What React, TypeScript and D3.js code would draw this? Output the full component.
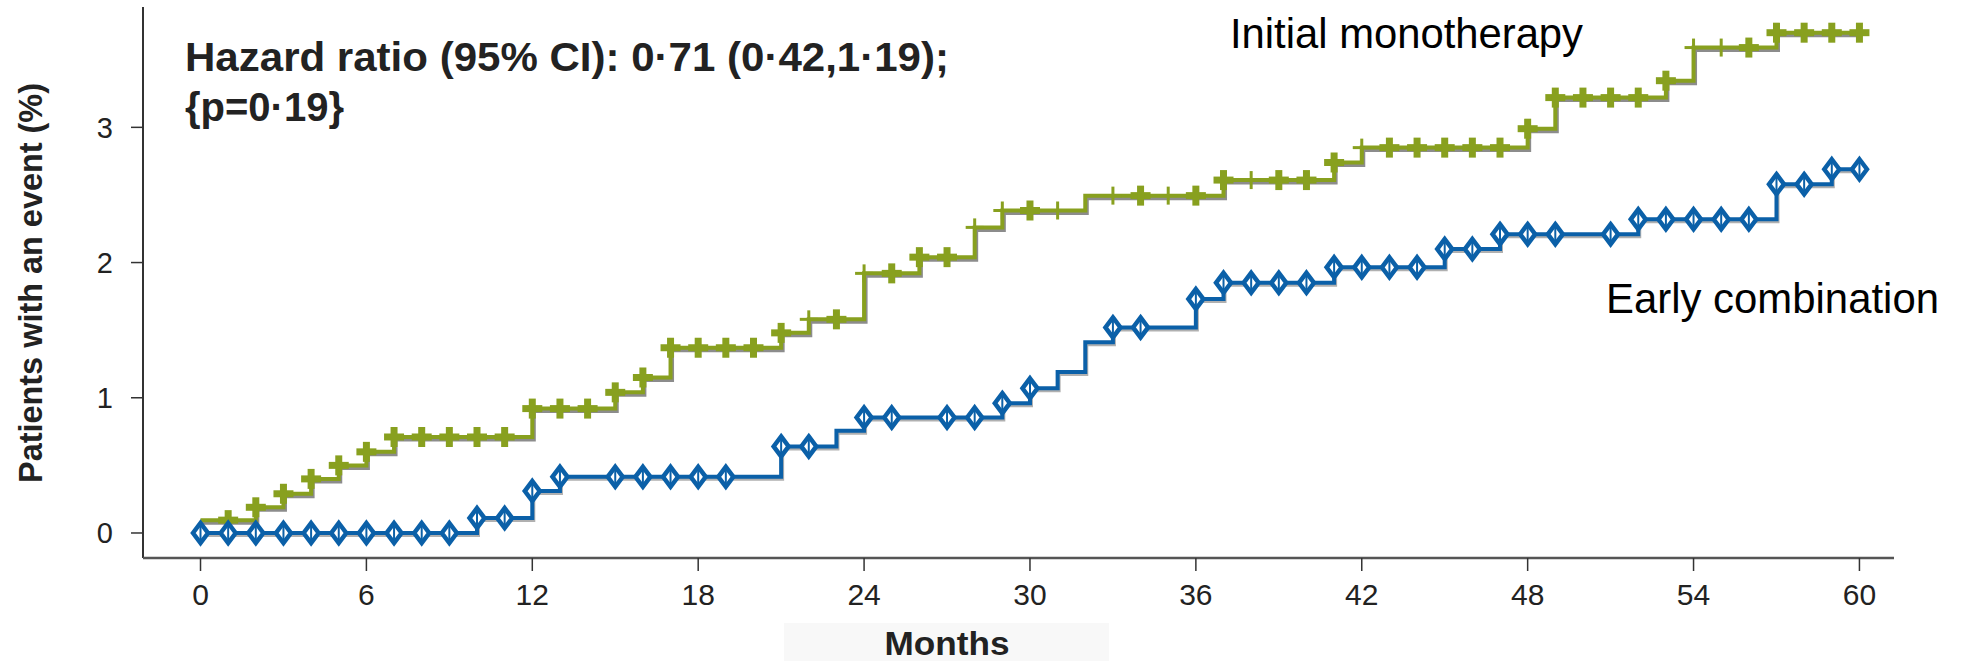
import React from 'react';
import * as d3 from 'd3';

// axis ticks
const monthTicks = [0, 6, 12, 18, 24, 30, 36, 42, 48, 54, 60];
const pctTicks = [0, 1, 2, 3];

// Initial monotherapy: step times (months) and cumulative % after each step
const monoTimes = [0, 2, 3, 4, 5, 6, 7, 12, 15, 16, 17, 21, 22, 24, 26, 28, 29, 32, 37, 41, 42, 48, 49, 53, 54, 57];
const monoValues = [0.095, 0.19, 0.29, 0.40, 0.50, 0.60, 0.71, 0.92, 1.04, 1.15, 1.37, 1.48, 1.58, 1.92, 2.04, 2.26, 2.385, 2.495, 2.61, 2.74, 2.85, 2.99, 3.22, 3.345, 3.59, 3.70];
const monoCensor = [1, 2, 3, 4, 5, 6, 7, 8, 9, 10, 11, 12, 13, 14, 15, 16, 17, 18, 19, 20, 21, 22, 23, 24, 25, 26, 27, 28, 29, 30, 31,
  33, 34, 35, 36, 37, 38, 39, 40, 41, 42, 43, 44, 45, 46, 47, 48, 49, 50, 51, 52, 53, 54, 55, 56, 57, 58, 59, 60];
const monoThin = [22, 24, 28, 29, 31, 33, 35, 38, 42, 54, 55];

// Early combination
const comboTimes = [0, 10, 12, 13, 21, 23, 24, 29, 30, 31, 32, 33, 36, 37, 41, 45, 47, 52, 57, 59];
const comboValues = [0, 0.11, 0.31, 0.415, 0.64, 0.756, 0.854, 0.96, 1.07, 1.19, 1.41, 1.52, 1.73, 1.85, 1.965, 2.10, 2.21, 2.32, 2.58, 2.69];
const comboCensor = [0, 1, 2, 3, 4, 5, 6, 7, 8, 9, 10, 11, 12, 13, 15, 16, 17, 18, 19, 21, 22, 24, 25, 27, 28, 29, 30,
  33, 34, 36, 37, 38, 39, 40, 41, 42, 43, 44, 45, 46, 47, 48, 49, 51, 52, 53, 54, 55, 56, 57, 58, 59, 60];

const W = 1965;
const H = 661;
const FONT = '"Liberation Sans", Arial, sans-serif';
const GREEN = '#88a01f';
const BLUE = '#0b60a8';

const x = d3.scaleLinear().domain([-2.08, 61.25]).range([143, 1894]);
const y = d3.scaleLinear().domain([-0.185, 3.89]).range([558, 7]);

function stepPoints(times: number[], values: number[], end: number): [number, number][] {
  const pts: [number, number][] = times.map((t, i) => [t, values[i]]);
  pts.push([end, values[values.length - 1]]);
  return pts;
}

function valueAt(times: number[], values: number[], t: number) {
  const i = d3.bisectRight(times, t) - 1;
  return values[Math.max(0, i)];
}

const line = d3.line<[number, number]>()
  .x(d => x(d[0]))
  .y(d => y(d[1]))
  .curve(d3.curveStepAfter);

export default function App() {
  const monoPath = line(stepPoints(monoTimes, monoValues, 60)) || '';
  const comboPath = line(stepPoints(comboTimes, comboValues, 60)) || '';

  return (
    <svg width={W} height={H} style={{ position: 'absolute', left: 0, top: 0, background: '#fff' }}>
      <rect x={0} y={0} width={W} height={H} fill="#fff" />
      {/* faint box behind the x title */}
      <rect x={784} y={623} width={325} height={38} fill="#f8f8f8" />

      {/* axes */}
      <line x1={x.range()[0]} x2={x.range()[0]} y1={y.range()[1]} y2={y.range()[0]} stroke="#333" strokeWidth={2} />
      <line x1={x.range()[0]} x2={x.range()[1]} y1={y.range()[0]} y2={y.range()[0]} stroke="#555" strokeWidth={2.5} />
      {pctTicks.map(t => (
        <g key={'y' + t}>
          <line x1={x.range()[0] - 12} x2={x.range()[0]} y1={y(t)} y2={y(t)} stroke="#333" strokeWidth={1.5} />
          <text x={113} y={y(t)} dy="0.36em" textAnchor="end" fontFamily={FONT} fontSize={29} fill="#222">{t}</text>
        </g>
      ))}
      {monthTicks.map(t => (
        <g key={'x' + t}>
          <line x1={x(t)} x2={x(t)} y1={y.range()[0]} y2={y.range()[0] + 13} stroke="#333" strokeWidth={1.5} />
          <text x={x(t)} y={605} textAnchor="middle" fontFamily={FONT} fontSize={30} fill="#222">{t}</text>
        </g>
      ))}
      <text x={947} y={655} textAnchor="middle" fontFamily={FONT} fontSize={33} fontWeight="bold" fill="#222"
        textLength={125} lengthAdjust="spacingAndGlyphs">Months</text>
      <text transform="translate(42,283) rotate(-90)" textAnchor="middle" fontFamily={FONT} fontSize={34}
        fontWeight="bold" fill="#222" textLength={400} lengthAdjust="spacingAndGlyphs">Patients with an event (%)</text>

      {/* annotation */}
      <text x={185} y={71} fontFamily={FONT} fontSize={40} fontWeight="bold" fill="#222"
        textLength={764} lengthAdjust="spacingAndGlyphs">Hazard ratio (95% CI): 0·71 (0·42,1·19);</text>
      <text x={185} y={121} fontFamily={FONT} fontSize={40} fontWeight="bold" fill="#222">{'{p=0·19}'}</text>
      <text x={1230} y={48} fontFamily={FONT} fontSize={42} fill="#000" textLength={353} lengthAdjust="spacingAndGlyphs">Initial monotherapy</text>
      <text x={1606} y={313} fontFamily={FONT} fontSize={42} fill="#000" textLength={333} lengthAdjust="spacingAndGlyphs">Early combination</text>

      {/* Initial monotherapy */}
      <path d={monoPath} fill="none" stroke="#8c8c8c" strokeWidth={4} transform="translate(1.5,2.5)" />
      <path d={monoPath} fill="none" stroke={GREEN} strokeWidth={4} />
      {monoCensor.map(t => {
        const cx = x(t);
        const cy = y(valueAt(monoTimes, monoValues, t));
        const thin = monoThin.includes(t);
        const r = thin ? 9 : 10;
        return (
          <g key={'m' + t} stroke={GREEN} strokeWidth={thin ? 3 : 7}>
            <line x1={cx - r} x2={cx + r} y1={cy} y2={cy} />
            <line x1={cx} x2={cx} y1={cy - r} y2={cy + r} />
          </g>
        );
      })}

      {/* Early combination */}
      <path d={comboPath} fill="none" stroke="#b0b0b0" strokeWidth={4} transform="translate(1,2)" />
      <path d={comboPath} fill="none" stroke={BLUE} strokeWidth={4} />
      {comboCensor.map(t => {
        const cx = x(t);
        const cy = y(valueAt(comboTimes, comboValues, t));
        const hw = 7.5;
        const hh = 10;
        return (
          <g key={'c' + t} stroke={BLUE} fill="#fff">
            <path d={`M${cx},${cy - hh}L${cx + hw},${cy}L${cx},${cy + hh}L${cx - hw},${cy}Z`} strokeWidth={4.5} />
            <line x1={cx} x2={cx} y1={cy - hh} y2={cy + hh} strokeWidth={2} />
          </g>
        );
      })}
    </svg>
  );
}
